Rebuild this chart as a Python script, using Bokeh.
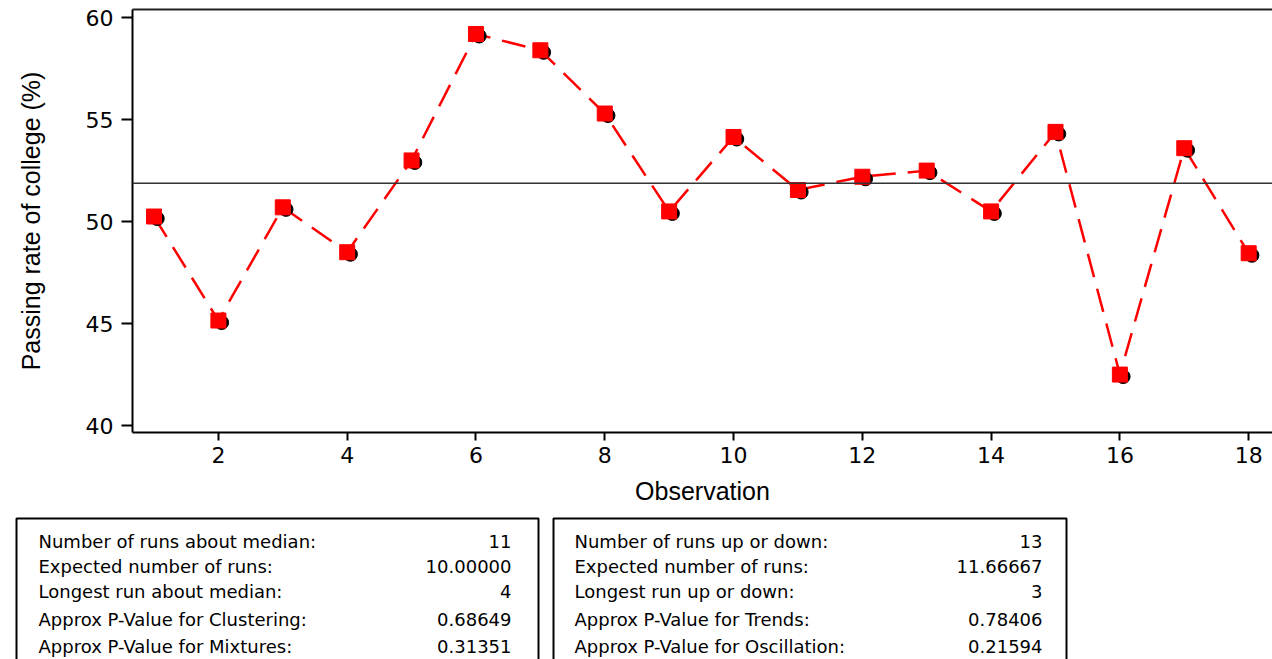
import numpy as np
from bokeh.plotting import figure
from bokeh.models import ColumnDataSource, Range1d, Span, LinearAxis, FixedTicker
from bokeh.layouts import column
from bokeh.transform import dodge
from bokeh.core.properties import value
from bokeh.embed import file_html
from bokeh.resources import INLINE

# ---- data ----
observation = list(range(1, 19))
passing_rate = [50.25, 45.15, 50.7, 48.5, 53.0, 59.2, 58.4, 55.3, 50.5,
                54.15, 51.55, 52.2, 52.5, 50.5, 54.4, 42.5, 53.6, 48.45]
y_ticks = [40, 45, 50, 55, 60]
x_ticks = [2, 4, 6, 8, 10, 12, 14, 16, 18]

median_labels = ["Number of runs about median:", "Expected number of runs:",
                 "Longest run about median:", "Approx P-Value for Clustering:",
                 "Approx P-Value for Mixtures:"]
median_values = ["11", "10.00000", "4", "0.68649", "0.31351"]
updown_labels = ["Number of runs up or down:", "Expected number of runs:",
                 "Longest run up or down:", "Approx P-Value for Trends:",
                 "Approx P-Value for Oscillation:"]
updown_values = ["13", "11.66667", "3", "0.78406", "0.21594"]

median = float(np.median(passing_rate))

src = ColumnDataSource(dict(x=observation, y=passing_rate))

# ---- main plot ----
p = figure(width=1272, height=512, output_backend="svg", toolbar_location=None,
           x_range=Range1d(0.666, 18.37), y_range=Range1d(39.66, 60.40),
           min_border_left=132, min_border_right=0, min_border_top=9,
           min_border_bottom=80)
p.frame_align = False
p.outline_line_color = None
p.xgrid.visible = False
p.ygrid.visible = False
p.background_fill_color = "white"
p.border_fill_color = "white"

xax = p.below[0]
yax = p.left[0]

top_axis = LinearAxis(ticker=FixedTicker(ticks=[]), major_tick_line_color=None,
                      minor_tick_line_color=None, axis_line_width=2,
                      axis_line_color="#222222", major_label_standoff=0)
p.add_layout(top_axis, "above")

for ax in (xax, yax):
    ax.axis_line_width = 2
    ax.axis_line_color = "black"
    ax.major_tick_line_width = 2
    ax.major_tick_in = 0
    ax.minor_tick_line_color = None
    ax.major_label_text_font = "DejaVu Sans"
    ax.major_label_text_font_size = "22px"
    ax.major_label_text_color = "black"
    ax.axis_label_text_font = "Liberation Sans"
    ax.axis_label_text_font_size = "25px"
    ax.axis_label_text_font_style = "normal"
    ax.axis_label_text_color = "black"

xax.ticker = FixedTicker(ticks=x_ticks)
yax.ticker = FixedTicker(ticks=y_ticks)
xax.major_tick_out = 8
yax.major_tick_out = 11
yax.major_label_standoff = 8
xax.major_label_standoff = 6
xax.axis_label = "Observation"
yax.axis_label = "Passing rate of college (%)"
xax.axis_label_standoff = 11
yax.axis_label_standoff = 38

p.add_layout(Span(location=median, dimension="width", line_color="#333333",
                  line_width=1.5))

p.line("x", "y", source=src, line_color="#FF0000", line_width=2.5,
       line_dash="24 12")
p.scatter(dodge("x", 0.05), dodge("y", -0.1), source=src, marker="circle",
          size=14, fill_color="black", line_color="black")
p.scatter("x", "y", source=src, marker="square", size=15,
          fill_color="#FF0000", line_color="#FF0000")

# ---- statistics boxes (coordinates equal page pixels) ----
t = figure(width=1272, height=147, output_backend="svg", toolbar_location=None,
           x_range=Range1d(0, 1272), y_range=Range1d(659, 512),
           x_axis_type=None, y_axis_type=None,
           min_border_left=0, min_border_right=0, min_border_top=0,
           min_border_bottom=0)
t.frame_align = False
t.outline_line_color = None
t.xgrid.visible = False
t.ygrid.visible = False
t.background_fill_color = "white"
t.border_fill_color = "white"

box_left = [16, 553]
box_right = [538, 1066]
t.quad(left=box_left, right=box_right, top=[518, 518], bottom=[672, 672],
       fill_color=None, line_color="black", line_width=2)

row_y = [541, 566, 591, 619, 646]
text_x = [38, 574]
value_x = [511, 1042]
for labels, values, lx, vx in ((median_labels, median_values, text_x[0], value_x[0]),
                               (updown_labels, updown_values, text_x[1], value_x[1])):
    t.text(x=[lx] * len(labels), y=row_y, text=labels, text_align="left",
           text_baseline="middle", text_font=value("DejaVu Sans"),
           text_font_size="18px", text_color="black")
    t.text(x=[vx] * len(values), y=row_y, text=values, text_align="right",
           text_baseline="middle", text_font=value("DejaVu Sans"),
           text_font_size="18px", text_color="black")

layout = column(p, t, spacing=0)
open("out.html", "w").write(file_html(layout, INLINE))
